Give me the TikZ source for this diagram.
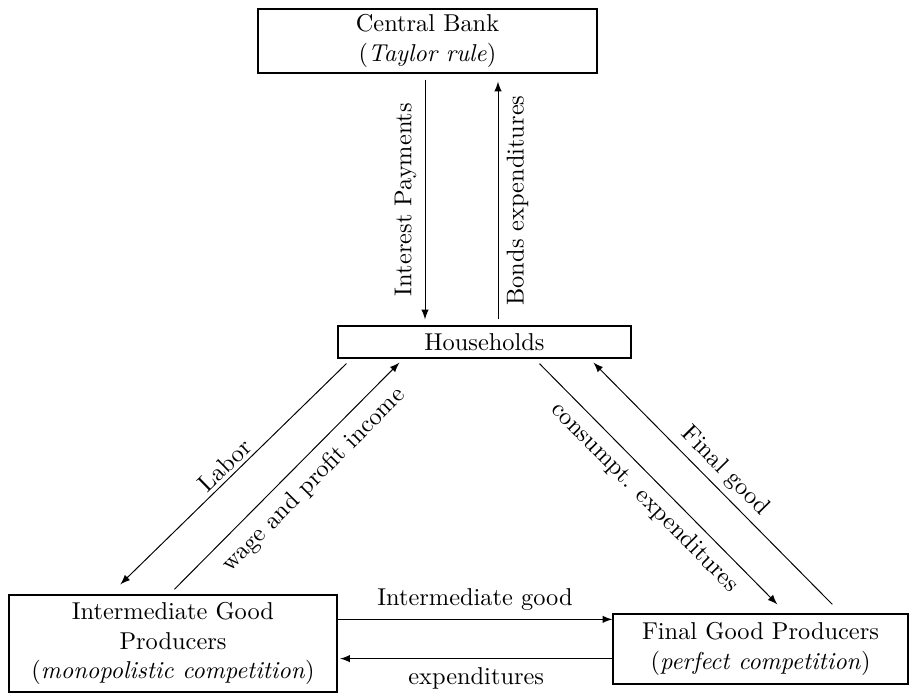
\documentclass[tikz,border=0pt]{standalone}
\usetikzlibrary{arrows}
\begin{document}
\begin{tikzpicture}[x=0.41pt,y=-0.41pt,
  box/.style={draw, align=center, inner sep=0pt, line width=0.5pt},
  arr/.style={-latex, line width=0.4pt}]
\useasboundingbox (0,0) rectangle (922,695);
\node[box, minimum width=139pt, minimum height=26.2pt] (cb) at (427.5,41) {Central Bank\\(\textit{Taylor rule})};
\node[box, minimum width=120.1pt, minimum height=13.1pt] (hh) at (484.5,342) {Households};
\node[box, minimum width=134.5pt, minimum height=39.8pt] (int) at (173,643.5) {Intermediate Good\\Producers\\(\textit{monopolistic competition})};
\node[box, minimum width=121pt, minimum height=28.7pt] (fin) at (760.5,649) {Final Good Producers\\(\textit{perfect competition})};
% vertical
\draw[arr] ([shift={(-2.5,6)}]cb.south) -- ([shift={(-59.5,-6)}]hh.north)
  node[midway, rotate=90, anchor=south] {Interest Payments};
\draw[arr] ([shift={(13.5,-6)}]hh.north) -- ([shift={(70.5,8)}]cb.south)
  node[midway, rotate=90, anchor=north] {Bonds expenditures};
% left diagonal
\draw[arr] ([shift={(9,5)}]hh.south west) -- ([shift={(112,-10)}]int.north west)
  node[midway, sloped, above, yshift=-2pt] {Labor};
\draw[arr] ([shift={(166,-5)}]int.north west) -- ([shift={(62,4)}]hh.south west)
  node[pos=0.55, sloped, below, yshift=-1pt] {wage and profit income};
% right diagonal
\draw[arr] ([shift={(202,5)}]hh.south west) -- ([shift={(165,-9)}]fin.north west)
  node[midway, sloped, below] {consumpt. expenditures};
\draw[arr] ([shift={(220,-9)}]fin.north west) -- ([shift={(256,4)}]hh.south west)
  node[midway, sloped, above, yshift=-1pt] {Final good};
% bottom
\coordinate (ig) at ([shift={(0,25)}]int.north east);
\draw[arr] (ig) -- (ig -| fin.west)
  node[midway, above] {Intermediate good};
\coordinate (ex) at ([shift={(0,-26)}]fin.south west);
\draw[arr] (ex) -- ([xshift=1pt]ex -| int.east)
  node[midway, below] {expenditures};
\end{tikzpicture}
\end{document}
